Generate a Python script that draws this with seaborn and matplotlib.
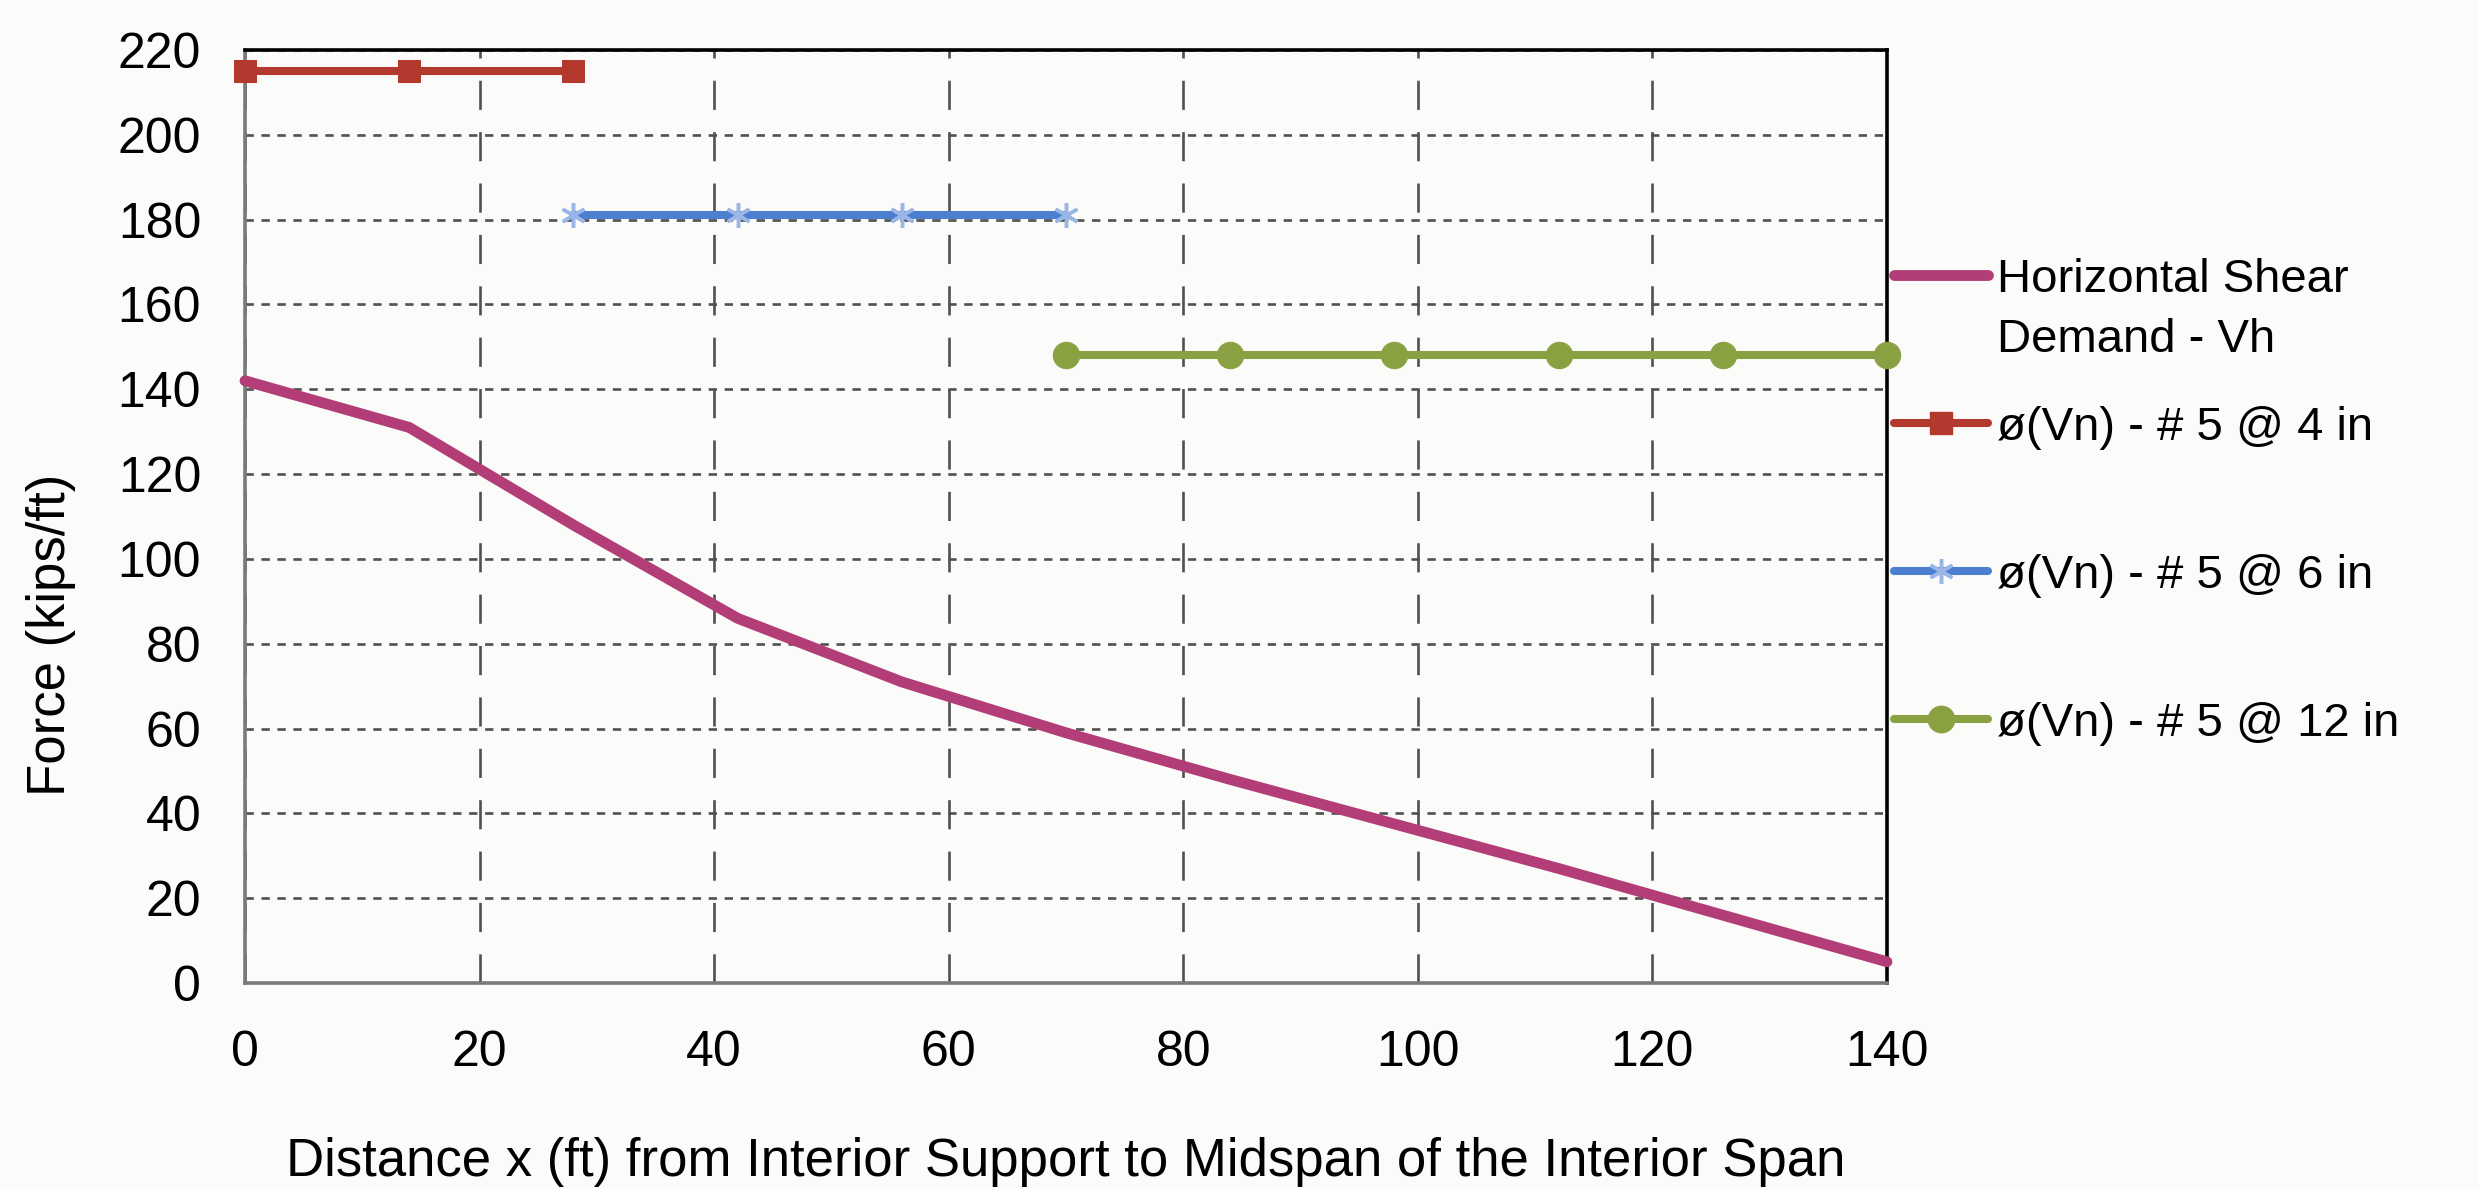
import matplotlib
matplotlib.use("Agg")
import matplotlib.pyplot as plt
import seaborn as sns
import pandas as pd
from matplotlib.lines import Line2D

# Horizontal shear demand along the span
distance_ft = [0, 14, 28, 42, 56, 70, 84, 98, 112, 126, 140]
shear_demand = [142, 131, 108, 86, 71, 59, 48, 37.5, 27, 16, 5]

# Provided shear capacity for each stirrup spacing zone
x_4in = [0, 14, 28]
vn_4in = [215, 215, 215]
x_6in = [28, 42, 56, 70]
vn_6in = [181, 181, 181, 181]
x_12in = [70, 84, 98, 112, 126, 140]
vn_12in = [148, 148, 148, 148, 148, 148]

series_labels = ["Horizontal Shear", "Demand - Vh",
                 "ø(Vn) - # 5 @ 4 in", "ø(Vn) - # 5 @ 6 in", "ø(Vn) - # 5 @ 12 in"]
x_ticks = [0, 20, 40, 60, 80, 100, 120, 140]
y_ticks = [0, 20, 40, 60, 80, 100, 120, 140, 160, 180, 200, 220]
x_title = "Distance x (ft) from Interior Support to Midspan of the Interior Span"
y_title = "Force (kips/ft)"

sns.set_style("white")
plt.rcParams["font.family"] = ["Liberation Sans", "DejaVu Sans"]
plt.rcParams["lines.scale_dashes"] = False
plt.rcParams["text.color"] = "black"
plt.rcParams["axes.labelcolor"] = "black"

BG = "#fbfbf9"
C_VH = "#b23d77"
C_4 = "#b3392f"
C_6 = "#4d7fd0"
C_6M = "#9ab6e6"
C_12 = "#8aa142"

W, H = 2479, 1189
fig = plt.figure(figsize=(W / 100, H / 100), dpi=100, facecolor=BG)
ax = fig.add_axes([245 / W, 1 - 983 / H, (1887 - 245) / W, (983 - 50) / H])
ax.set_facecolor(BG)

df_vh = pd.DataFrame({"x": distance_ft, "y": shear_demand})
sns.lineplot(data=df_vh, x="x", y="y", ax=ax, color=C_VH, lw=7.8,
             zorder=5, clip_on=False)
sns.lineplot(x=x_4in, y=vn_4in, ax=ax, color=C_4, lw=5.8, marker="s",
             markersize=16, markeredgecolor=C_4, zorder=6, clip_on=False)
sns.lineplot(x=x_6in, y=vn_6in, ax=ax, color=C_6, lw=5.8, marker=(6, 2, 0),
             markersize=18, markeredgecolor=C_6M, markeredgewidth=2.5,
             zorder=6, clip_on=False)
sns.lineplot(x=x_12in, y=vn_12in, ax=ax, color=C_12, lw=5.8, marker="o",
             markersize=19, markeredgecolor=C_12, zorder=6, clip_on=False)

ax.set_xlim(0, 140)
ax.set_ylim(0, 220)
ax.set_xticks(x_ticks)
ax.set_yticks(y_ticks)
ax.tick_params(axis="both", direction="inout", length=19, width=2,
               color="#777777", labelsize=36, labelcolor="black")
ax.tick_params(axis="y", pad=22)
ax.tick_params(axis="x", pad=24)

ax.set_xlabel(x_title, fontsize=38, labelpad=44)
ax.set_ylabel(y_title, fontsize=38, va="center")
ax.yaxis.set_label_coords(-0.118, 0.373)

# dashed grid: short dashes horizontally, long dashes vertically
ax.yaxis.grid(True, color="#505050", lw=1.9, linestyle=(0, (6, 5.5)))
ax.xaxis.grid(True, color="#505050", lw=1.9, linestyle=(0, (21, 16)))
ax.set_axisbelow(True)

for side in ("top", "right"):
    ax.spines[side].set_color("black")
    ax.spines[side].set_linewidth(2.6)
for side in ("left", "bottom"):
    ax.spines[side].set_color("#7a7a7a")
    ax.spines[side].set_linewidth(2.6)
for sp in ax.spines.values():
    sp.set_zorder(4)

handles = [
    Line2D([], [], color=C_VH, lw=7.8),
    Line2D([], [], color=C_4, lw=5.8, marker="s", markersize=16),
    Line2D([], [], color=C_6, lw=5.8, marker=(6, 2, 0), markersize=18,
           markeredgecolor=C_6M, markeredgewidth=2.5),
    Line2D([], [], color=C_12, lw=5.8, marker="o", markersize=19),
]
labels = [series_labels[0]] + series_labels[2:]
LEG_FS = 34
anchor = [0.764, 0.78]
leg = fig.legend(handles, labels, loc="upper left",
                 bbox_to_anchor=tuple(anchor), frameon=False, fontsize=LEG_FS,
                 handlelength=2.0, handletextpad=0.19, labelspacing=2.2,
                 borderaxespad=0, borderpad=0)

# place the first legend label: left edge at x=1997 px, centre 280 px from top
fig.canvas.draw()
renderer = fig.canvas.get_renderer()
bb = leg.get_texts()[0].get_window_extent(renderer)
dx = (1997 - bb.x0) / W
dy = ((H - 280) - (bb.y0 + bb.y1) / 2) / H
leg.set_bbox_to_anchor((anchor[0] + dx, anchor[1] + dy), transform=fig.transFigure)

fig.canvas.draw()
bb = leg.get_texts()[0].get_window_extent(renderer)
cx, cy = fig.transFigure.inverted().transform((bb.x0, (bb.y0 + bb.y1) / 2 - 60))
fig.text(cx, cy, series_labels[1], fontsize=LEG_FS, ha="left", va="center")

fig.savefig("out.png", dpi=100, facecolor=BG)
